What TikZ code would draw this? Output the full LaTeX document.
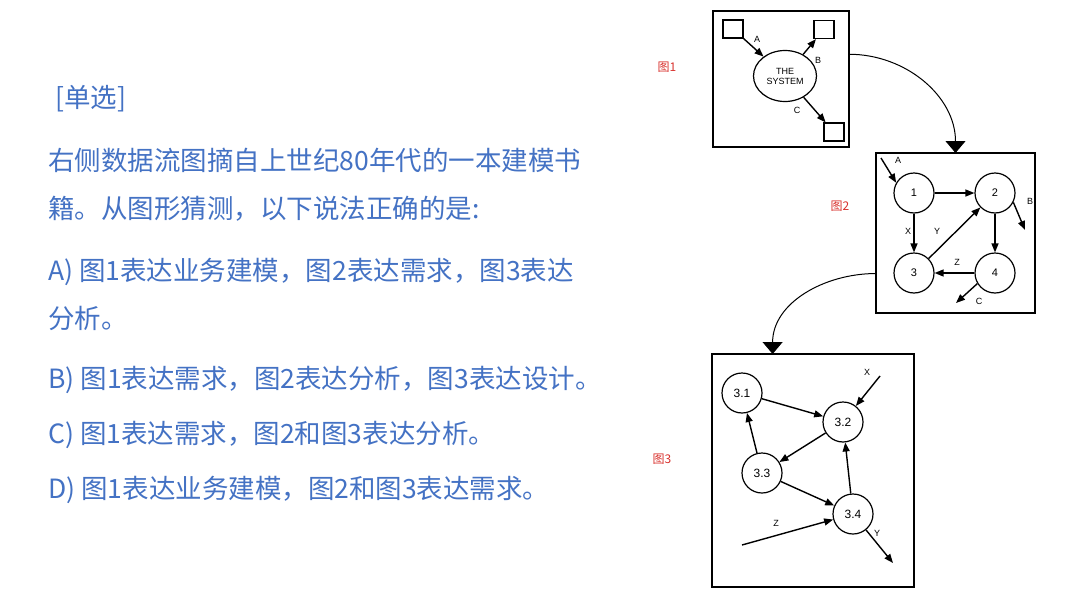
\documentclass[tikz,border=0pt]{standalone}
\usepackage{fontspec}
\setmainfont{Liberation Sans}
\newfontfamily\cjk{Noto Sans CJK SC}
\usetikzlibrary{arrows.meta,shapes.geometric,calc}
\definecolor{quizBlue}{HTML}{4472C4}
\definecolor{tagRed}{HTML}{D9322E}

\tikzset{
  qline/.style={anchor=base west, inner sep=0pt, text=quizBlue, font=\cjk\fontsize{26.5}{30}\selectfont},
  figtag/.style={text=tagRed, inner sep=0pt, font=\cjk\fontsize{12}{13}\selectfont},
  frame/.style={draw, line width=1.3pt, inner sep=0pt, outer sep=0pt},
  extbox/.style={draw, line width=1.2pt, minimum width=20pt, minimum height=18pt, inner sep=0pt},
  proc/.style={draw, circle, line width=1.2pt, minimum size=40pt, inner sep=0pt, font=\fontsize{#1}{#1}\selectfont},
  proc/.default=11,
  flow/.style={line width=1.4pt, -{Triangle[length=9pt,width=7pt]}},
  link/.style={line width=1pt, -{Triangle[length=12pt,width=20pt]}},
  lbl/.style={inner sep=0pt, font=\fontsize{9}{9}\selectfont}
}

\begin{document}
\begin{tikzpicture}[x=1pt,y=-1pt]
  \fill[white] (0,0) rectangle (1080,608);

  \node[qline] (kind) at (55,107) {[单选]};
  \node[qline] (stem1) at (48,170) {右侧数据流图摘自上世纪80年代的一本建模书};
  \node[qline] (stem2) at (48,218) {籍。从图形猜测，以下说法正确的是:};
  \node[qline] (optA) at (48,280) {A) 图1表达业务建模，图2表达需求，图3表达};
  \node[qline] (optA2) at (48,328) {分析。};
  \node[qline] (optB) at (48,388) {B) 图1表达需求，图2表达分析，图3表达设计。};
  \node[qline] (optC) at (48,443) {C) 图1表达需求，图2和图3表达分析。};
  \node[qline] (optD) at (48,498) {D) 图1表达业务建模，图2和图3表达需求。};

  \node[figtag] (tag1) at (667,67) {图1};
  \node[figtag] (tag2) at (840,206) {图2};
  \node[figtag] (tag3) at (662,459) {图3};

  \node[frame, minimum width=136pt, minimum height=136pt] (fig1) at (781,79) {};
  \node[frame, minimum width=159pt, minimum height=160pt] (fig2) at (955.5,233) {};
  \node[frame, minimum width=202pt, minimum height=233pt] (fig3) at (813,470.5) {};

  \draw[link] (fig1.20) to[out=0,in=90] (fig2.north);
  \draw[link] (fig2.207) to[out=180,in=90] ($(fig3.north west)!0.3!(fig3.north east)$);

  \node[extbox] (src) at (733,29) {};
  \node[extbox] (sinkB) at (824,29.5) {};
  \node[extbox] (sinkC) at (834,132) {};
  \node[draw, ellipse, line width=1.2pt, minimum width=63pt, minimum height=51pt, inner sep=0pt,
        align=center, font=\fontsize{9}{10}\selectfont] (sys) at (785,76) {THE\\SYSTEM};
  \draw[flow] (src) -- (sys);
  \draw[flow] (sys) -- (sinkB);
  \draw[flow] (sys) -- (sinkC);
  \node[lbl] (lA1) at (757,39) {A};
  \node[lbl] (lB1) at (818,60) {B};
  \node[lbl] (lC1) at (797,110) {C};

  \node[proc] (p1) at (914,193) {1};
  \node[proc] (p2) at (995,193) {2};
  \node[proc] (p3) at (914,273) {3};
  \node[proc] (p4) at (995,273) {4};
  \coordinate (inA) at (881,158);
  \coordinate (outB) at (1025,230);
  \coordinate (outC) at (956,303);
  \draw[flow] (inA) -- (p1.150);
  \draw[flow] (p1) -- (p2);
  \draw[flow] (p2.-27) -- (outB);
  \draw[flow] (p1) -- (p3);
  \draw[flow] (p3) -- (p2);
  \draw[flow] (p2) -- (p4);
  \draw[flow] (p4) -- (p3);
  \draw[flow] (p4.211) -- (outC);
  \node[lbl] (lA2) at (898,160) {A};
  \node[lbl] (lB2) at (1030,201) {B};
  \node[lbl] (lX2) at (908,231) {X};
  \node[lbl] (lY2) at (937,231) {Y};
  \node[lbl] (lZ2) at (957,262) {Z};
  \node[lbl] (lC2) at (979,301) {C};

  \node[proc=12] (q1) at (742,393) {3.1};
  \node[proc=12] (q2) at (843,422) {3.2};
  \node[proc=12] (q3) at (762,473) {3.3};
  \node[proc=12] (q4) at (853,514) {3.4};
  \coordinate (inX) at (880,376);
  \coordinate (inZ) at (742,545);
  \coordinate (outY) at (893,563);
  \draw[flow] (q1) -- (q2);
  \draw[flow] (inX) -- (q2);
  \draw[flow] (q2) -- (q3);
  \draw[flow] (q3) -- (q1);
  \draw[flow] (q3) -- (q4);
  \draw[flow] (q4) -- (q2);
  \draw[flow] (inZ) -- (q4);
  \draw[flow] (q4) -- (outY);
  \node[lbl] (lX3) at (867,372) {X};
  \node[lbl] (lZ3) at (776,523) {Z};
  \node[lbl] (lY3) at (877,533) {Y};
\end{tikzpicture}
\end{document}
